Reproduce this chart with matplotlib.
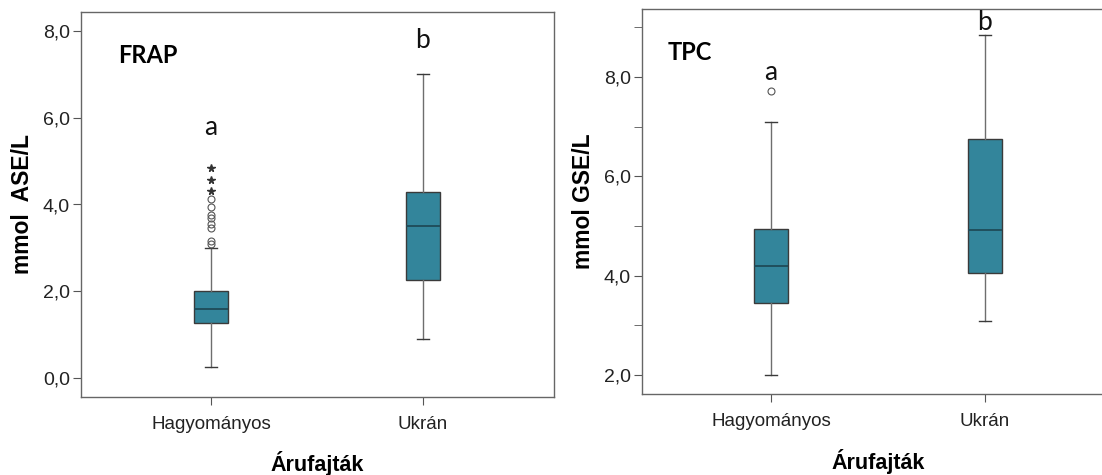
import matplotlib
matplotlib.use("Agg")
import matplotlib.pyplot as plt

categories = ["Hagyományos", "Ukrán"]

# FRAP (mmol ASE/L)
frap_whislo = [0.25, 0.90]
frap_q1 = [1.27, 2.25]
frap_med = [1.58, 3.50]
frap_q3 = [2.00, 4.28]
frap_whishi = [3.00, 7.00]
frap_out_circles = [[3.10, 3.15, 3.45, 3.55, 3.70, 3.75, 3.95, 4.12], []]
frap_out_stars = [[4.30, 4.57, 4.85], []]
frap_letters = ["a", "b"]
frap_letter_y = [5.77, 7.79]

# TPC (mmol GSE/L)
tpc_whislo = [2.00, 3.08]
tpc_q1 = [3.45, 4.05]
tpc_med = [4.20, 4.92]
tpc_q3 = [4.95, 6.75]
tpc_whishi = [7.10, 8.85]
tpc_out_circles = [[7.72], []]
tpc_out_stars = [[], []]
tpc_letters = ["a", "b"]
tpc_letter_y = [8.10, 9.10]

BOX = "#33859B"
MED = "#1E4B58"
EDGE = "#3A3A3A"
WHIS = "#6E6E6E"
SANS = ["Liberation Sans", "DejaVu Sans"]
CAL = ["Lato", "DejaVu Sans"]
plt.rcParams["font.family"] = SANS

fig = plt.figure(figsize=(11.02, 4.75), dpi=100)
ax1 = fig.add_axes([81/1102, 1-397/475, 473/1102, 385/475])
ax2 = fig.add_axes([642/1102, 1-394/475, 472/1102, 385/475])


def draw(ax, wl, q1, med, q3, wh, circ, stars, letters, ly, ylim, xlim, ticks, minor,
         ylabel, title, tpos):
    stats = []
    for i in range(len(categories)):
        stats.append(dict(whislo=wl[i], q1=q1[i], med=med[i], q3=q3[i], whishi=wh[i],
                          fliers=circ[i], label=categories[i]))
    ax.bxp(stats, positions=range(len(categories)), widths=0.16, patch_artist=True,
           boxprops=dict(facecolor=BOX, edgecolor=EDGE, linewidth=1.0),
           medianprops=dict(color=MED, linewidth=1.3),
           whiskerprops=dict(color=WHIS, linewidth=1.0),
           capprops=dict(color=EDGE, linewidth=1.0),
           capwidths=0.055,
           flierprops=dict(marker="o", markerfacecolor="none", markeredgecolor="#555555",
                           markersize=5, markeredgewidth=0.8))
    for i, s in enumerate(stars):
        if s:
            ax.plot([i]*len(s), s, linestyle="none", marker="*", color="#333333", markersize=5.5)
    for i, (t, y) in enumerate(zip(letters, ly)):
        ax.text(i, y, t, ha="center", va="center", fontsize=19, family=CAL, color="#111111")
    ax.text(tpos[0], tpos[1], title, transform=ax.transAxes,
            fontsize=17, fontweight="bold", family=CAL, ha="left", va="center")
    ax.set_xlim(*xlim)
    ax.set_ylim(*ylim)
    ax.set_yticks(ticks)
    ax.set_yticklabels([f"{t:.1f}".replace(".", ",") for t in ticks], fontsize=14,
                       color="#222222")
    if minor:
        ax.set_yticks(minor, minor=True)
        ax.tick_params(axis="y", which="minor", length=6, color="#555555")
    ax.set_xticks(range(len(categories)))
    ax.set_xticklabels(categories, fontsize=13.5, color="#222222")
    ax.tick_params(axis="both", which="major", length=6, color="#555555", pad=2)
    ax.tick_params(axis="x", pad=8)
    for sp in ax.spines.values():
        sp.set_color("#666666")
        sp.set_linewidth(1.0)
    ax.set_ylabel(ylabel, fontsize=16.5, fontweight="bold", labelpad=6)
    ax.set_xlabel("Árufajták", fontsize=15.5, fontweight="bold", labelpad=13)


draw(ax1, frap_whislo, frap_q1, frap_med, frap_q3, frap_whishi, frap_out_circles, frap_out_stars,
     frap_letters, frap_letter_y, (-0.44, 8.44), (-0.613, 1.618), [0, 2, 4, 6, 8], None,
     "mmol  ASE/L", "FRAP", (0.078, 0.888))
draw(ax2, tpc_whislo, tpc_q1, tpc_med, tpc_q3, tpc_whishi, tpc_out_circles, tpc_out_stars,
     tpc_letters, tpc_letter_y, (1.62, 9.37), (-0.603, 1.603), [2, 4, 6, 8], [3, 5, 7, 9],
     "mmol GSE/L", "TPC", (0.055, 0.888))

fig.savefig("out.png", dpi=100)
